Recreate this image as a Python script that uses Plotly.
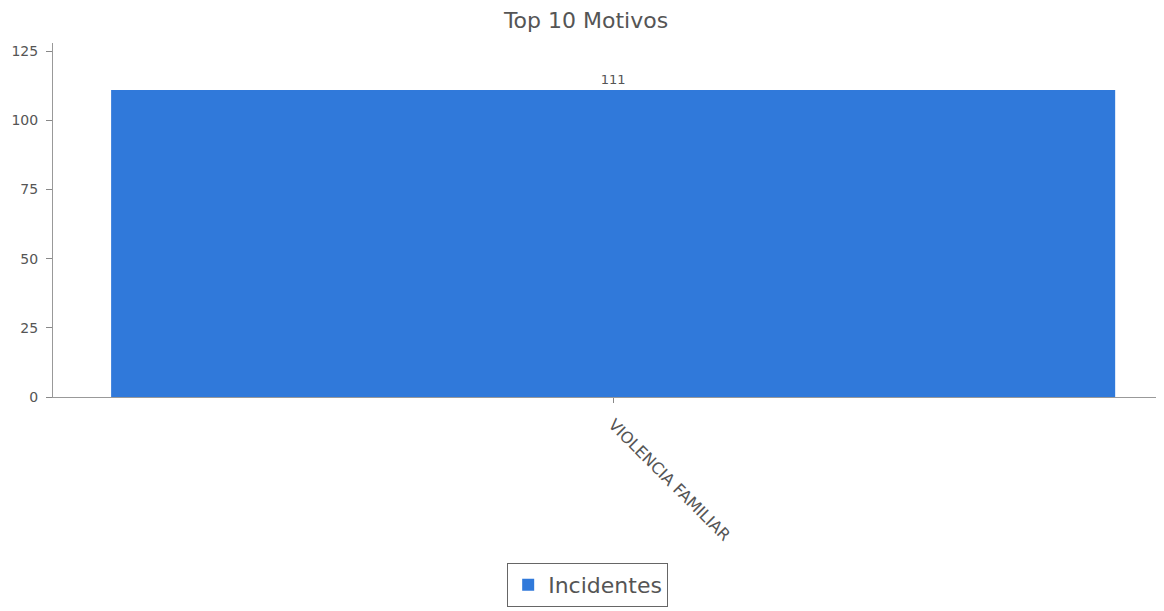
import plotly.graph_objects as go

categories = ["VIOLENCIA FAMILIAR"]
incidentes = [111]
y_ticks = [0, 25, 50, 75, 100, 125]

fig = go.Figure()
fig.add_trace(go.Bar(
    x=categories, y=incidentes, name="Incidentes",
    marker=dict(color="#3079DA", line=dict(width=0)),
    text=[str(v) for v in incidentes], textposition="outside",
    textfont=dict(family="DejaVu Sans", size=13, color="#555"),
    cliponaxis=False,
))
fig.update_layout(
    width=1156, height=603,
    margin=dict(l=45, r=4, t=35, b=212),
    paper_bgcolor="white", plot_bgcolor="white",
    title=dict(text="Top 10 Motivos", x=0.5, xanchor="center", y=0.980, yanchor="middle",
               font=dict(family="DejaVu Sans", size=22, color="#555")),
    bargap=0.093,
    showlegend=True,
    legend=dict(orientation="h", x=0.483, xanchor="center", y=-0.469, yanchor="top",
                bordercolor="#666", borderwidth=1,
                font=dict(family="DejaVu Sans", size=22, color="#555")),
    xaxis=dict(range=[-0.506, 0.494], showline=True, linecolor="#999", linewidth=1, tickangle=45,
               ticks="outside", ticklen=5, tickcolor="#888", automargin=False,
               ticklabelstandoff=6,
               tickfont=dict(family="DejaVu Sans", size=16, color="#555")),
    yaxis=dict(range=[0, 128], tickvals=y_ticks, showgrid=False, zeroline=False,
               showline=True, linecolor="#999", linewidth=1, automargin=False,
               ticks="outside", ticklen=6, tickcolor="#888", ticklabelstandoff=5,
               tickfont=dict(family="DejaVu Sans", size=14, color="#555")),
)
fig.write_html("out.html")
